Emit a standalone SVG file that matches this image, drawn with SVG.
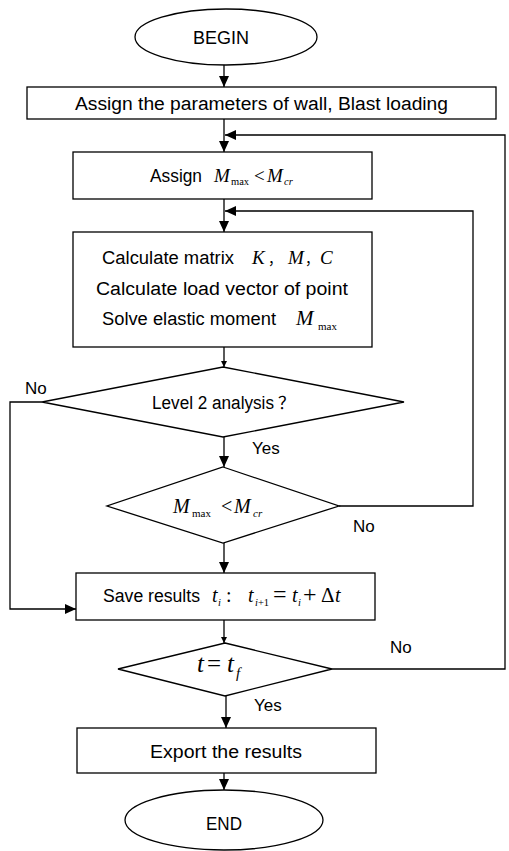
<svg xmlns="http://www.w3.org/2000/svg" width="509" height="851" viewBox="0 0 509 851">
<style>
.s{fill:#fff;stroke:#000;stroke-width:1.3}
.c{fill:none;stroke:#000;stroke-width:1.3}
.t{font-family:"Liberation Sans",Arial,sans-serif;font-size:18px;fill:#000}
.k{font-family:"Noto Sans CJK SC","Noto Sans CJK JP",sans-serif;fill:#000}
.l{font-family:"Liberation Sans",Arial,sans-serif;font-size:17px;fill:#000}
.m{font-family:"Liberation Serif","Times New Roman",serif;font-style:italic;fill:#000}
.u{font-family:"Liberation Serif","Times New Roman",serif;fill:#000}
</style>
<defs>
<marker id="a" markerUnits="userSpaceOnUse" markerWidth="11" markerHeight="10" refX="11" refY="5" orient="auto"><path d="M0,0 L11,5 L0,10 z" fill="#000"/></marker>
<marker id="b" markerUnits="userSpaceOnUse" markerWidth="6" markerHeight="6" refX="6" refY="3" orient="auto"><path d="M0,0 L6,3 L0,6 z" fill="#000"/></marker>
</defs>
<rect width="509" height="851" fill="#fff"/>
<g id="connectors">
<line class="c" x1="224" y1="65" x2="224" y2="87" marker-end="url(#a)"/>
<line class="c" x1="224" y1="119" x2="224" y2="152" marker-end="url(#a)"/>
<polyline class="c" points="332,669 505,669 505,135 225,135" marker-end="url(#a)"/>
<line class="c" x1="224" y1="199" x2="224" y2="232" marker-end="url(#a)"/>
<polyline class="c" points="339,506 473,506 473,211 225,211" marker-end="url(#a)"/>
<line class="c" x1="224" y1="347" x2="224" y2="367" marker-end="url(#b)"/>
<polyline class="c" points="42,402 10,402 10,609 76,609" marker-end="url(#a)"/>
<line class="c" x1="224" y1="437" x2="224" y2="467" marker-end="url(#a)"/>
<line class="c" x1="224" y1="543" x2="224" y2="573" marker-end="url(#a)"/>
<line class="c" x1="224" y1="620" x2="224" y2="643" marker-end="url(#b)"/>
<line class="c" x1="226" y1="696" x2="226" y2="728" marker-end="url(#a)"/>
<line class="c" x1="224" y1="773" x2="224" y2="790" marker-end="url(#a)"/>
<text class="l" x="25" y="394">No</text>
<text class="l" x="252" y="454">Yes</text>
<text class="l" x="353" y="532">No</text>
<text class="l" x="390" y="653">No</text>
<text class="l" x="254" y="711">Yes</text>
</g>
<g id="begin">
<ellipse class="s" cx="226" cy="37" rx="91" ry="28"/>
<text class="t" x="193" y="44" textLength="56" lengthAdjust="spacingAndGlyphs">BEGIN</text>
</g>
<g id="assignParams">
<rect class="s" x="27" y="87" width="469" height="32"/>
<text class="t" x="75" y="110" textLength="373" lengthAdjust="spacingAndGlyphs">Assign the parameters of wall, Blast loading</text>
</g>
<g id="assignM">
<rect class="s" x="73" y="152" width="299" height="47"/>
<text class="t" x="150" y="182" textLength="52" lengthAdjust="spacingAndGlyphs">Assign</text>
<text class="m" x="214" y="182" font-size="19">M</text>
<text class="u" x="231" y="185" font-size="10.5">max</text>
<text class="u" x="254" y="182" font-size="19">&lt;</text>
<text class="m" x="267" y="182" font-size="19">M</text>
<text class="m" x="284" y="185" font-size="10.5">cr</text>
</g>
<g id="calculate">
<rect class="s" x="73" y="232" width="299" height="115"/>
<text class="t" x="102" y="264" textLength="132" lengthAdjust="spacingAndGlyphs">Calculate matrix</text>
<text class="m" x="252" y="264" font-size="19">K</text>
<text class="k" x="268" y="264" font-size="14">，</text>
<text class="m" x="288" y="264" font-size="19">M</text>
<text class="k" x="305" y="264" font-size="14">，</text>
<text class="m" x="320" y="264" font-size="19">C</text>
<text class="t" x="96" y="295" textLength="252" lengthAdjust="spacingAndGlyphs">Calculate load vector of point</text>
<text class="t" x="102" y="325" textLength="174" lengthAdjust="spacingAndGlyphs">Solve elastic moment</text>
<text class="m" x="296" y="325" font-size="21">M</text>
<text class="u" x="318" y="330" font-size="11">max</text>
</g>
<g id="level2">
<polygon class="s" points="223,367 404,402 223,437 42,402"/>
<text class="t" x="152" y="409" textLength="122" lengthAdjust="spacingAndGlyphs">Level 2 analysis</text>
<text class="k" x="278" y="409" font-size="17">？</text>
</g>
<g id="check">
<polygon class="s" points="223,467 339,506 223,543 107,506"/>
<text class="m" x="173" y="513" font-size="20">M</text>
<text class="u" x="192" y="517" font-size="11">max</text>
<text class="u" x="221" y="513" font-size="20">&lt;</text>
<text class="m" x="234" y="513" font-size="20">M</text>
<text class="m" x="253" y="517" font-size="11">cr</text>
</g>
<g id="save">
<rect class="s" x="76" y="573" width="299" height="47"/>
<text class="t" x="103" y="602" textLength="97" lengthAdjust="spacingAndGlyphs">Save results</text>
<text class="m" x="212" y="602" font-size="20">t</text>
<text class="m" x="218" y="606" font-size="10.5">i</text>
<text class="u" x="226" y="602" font-size="20">:</text>
<text class="m" x="248" y="602" font-size="20">t</text>
<text class="u" x="255" y="606" font-size="10.5"><tspan class="m">i</tspan>+1</text>
<text class="u" x="273" y="602" font-size="24">=</text>
<text class="m" x="292" y="602" font-size="20">t</text>
<text class="m" x="298" y="606" font-size="10.5">i</text>
<text class="u" x="303" y="602" font-size="24">+</text>
<text class="u" x="321" y="602" font-size="21">Δ</text>
<text class="m" x="335" y="602" font-size="20">t</text>
</g>
<g id="tf">
<polygon class="s" points="225,643 332,669 225,696 118,669"/>
<text class="m" x="197" y="672" font-size="25">t</text>
<text class="u" x="207" y="672" font-size="25">=</text>
<text class="m" x="227" y="672" font-size="25">t</text>
<text class="m" x="236" y="678" font-size="15">f</text>
</g>
<g id="export">
<rect class="s" x="77" y="728" width="299" height="45"/>
<text class="t" x="150" y="758" textLength="152" lengthAdjust="spacingAndGlyphs">Export the results</text>
</g>
<g id="end">
<ellipse class="s" cx="224" cy="820" rx="99" ry="30"/>
<text class="t" x="206" y="830" textLength="36" lengthAdjust="spacingAndGlyphs">END</text>
</g>
</svg>
